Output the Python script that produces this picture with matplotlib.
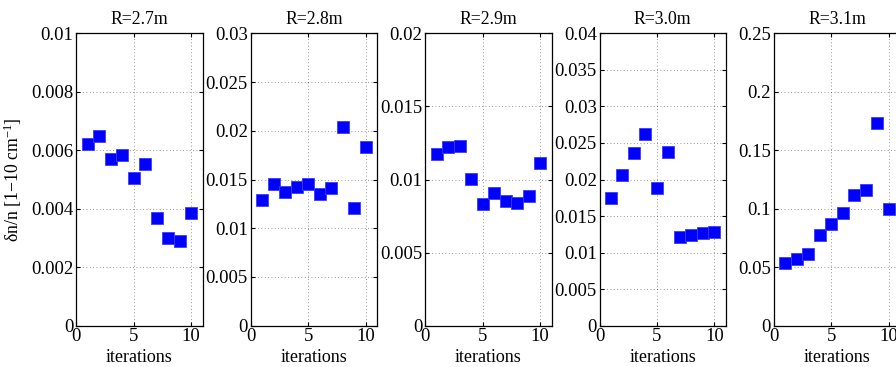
import matplotlib
matplotlib.use("Agg")
import matplotlib.pyplot as plt

plt.rcParams["font.family"] = ["Liberation Serif", "DejaVu Serif"]
plt.rcParams["mathtext.fontset"] = "custom"
plt.rcParams["mathtext.rm"] = "Liberation Serif"
plt.rcParams["mathtext.it"] = "Liberation Serif:italic"

iterations = [1, 2, 3, 4, 5, 6, 7, 8, 9, 10]

titles = ["R=2.7m", "R=2.8m", "R=2.9m", "R=3.0m", "R=3.1m"]

r27 = [0.00620, 0.00650, 0.00571, 0.00583, 0.00504, 0.00554, 0.00369, 0.00299, 0.00290, 0.00387]
r28 = [0.01286, 0.01457, 0.01368, 0.01420, 0.01454, 0.01348, 0.01410, 0.02035, 0.01211, 0.01834]
r29 = [0.01172, 0.01225, 0.01229, 0.01006, 0.00835, 0.00905, 0.00853, 0.00839, 0.00887, 0.01111]
r30 = [0.01751, 0.02066, 0.02358, 0.02618, 0.01888, 0.02376, 0.01213, 0.01236, 0.01268, 0.01286]
r31 = [0.0533, 0.0573, 0.0610, 0.0778, 0.0867, 0.0961, 0.1115, 0.1163, 0.1730, 0.0995]

series = [r27, r28, r29, r30, r31]

y_tops = [0.01, 0.03, 0.02, 0.04, 0.25]
y_steps = [0.002, 0.005, 0.005, 0.005, 0.05]

fig = plt.figure(figsize=(8.96, 3.67), dpi=100)

W, H = 896.0, 367.0
lefts = [76.3, 250.7, 425.1, 599.5, 773.9]
ax_w = 126.4
top_px, bottom_px = 33.3, 325.7

for i in range(5):
    ax = fig.add_axes([lefts[i] / W, 1 - bottom_px / H, ax_w / W, (bottom_px - top_px) / H])
    ax.plot(iterations, series[i], "s", color="blue", markersize=8,
            markeredgecolor="#3c3cff", markeredgewidth=0.6)
    ax.set_xlim(0, 11)
    ax.set_ylim(0, y_tops[i])
    ax.set_xticks([0, 5, 10])
    n = int(round(y_tops[i] / y_steps[i]))
    yt = [k * y_steps[i] for k in range(n + 1)]
    ax.set_yticks(yt)
    ax.set_yticklabels(["%g" % round(v, 6) for v in yt])
    ax.grid(True, linestyle=(0, (1, 3)), color="black", linewidth=0.6, alpha=0.55)
    ax.tick_params(direction="in", top=True, right=True, labelsize=13.5, length=3, pad=2)
    for s in ax.spines.values():
        s.set_linewidth(0.9)
    ax.set_title(titles[i], fontsize=12.8, pad=7)
    ax.set_xlabel("iterations", fontsize=13, labelpad=2.5)
    if i == 0:
        ax.set_ylabel("δn/n [1−10 cm$^{-1}$]", fontsize=12.8, labelpad=5)

fig.savefig("out.png", dpi=100)
